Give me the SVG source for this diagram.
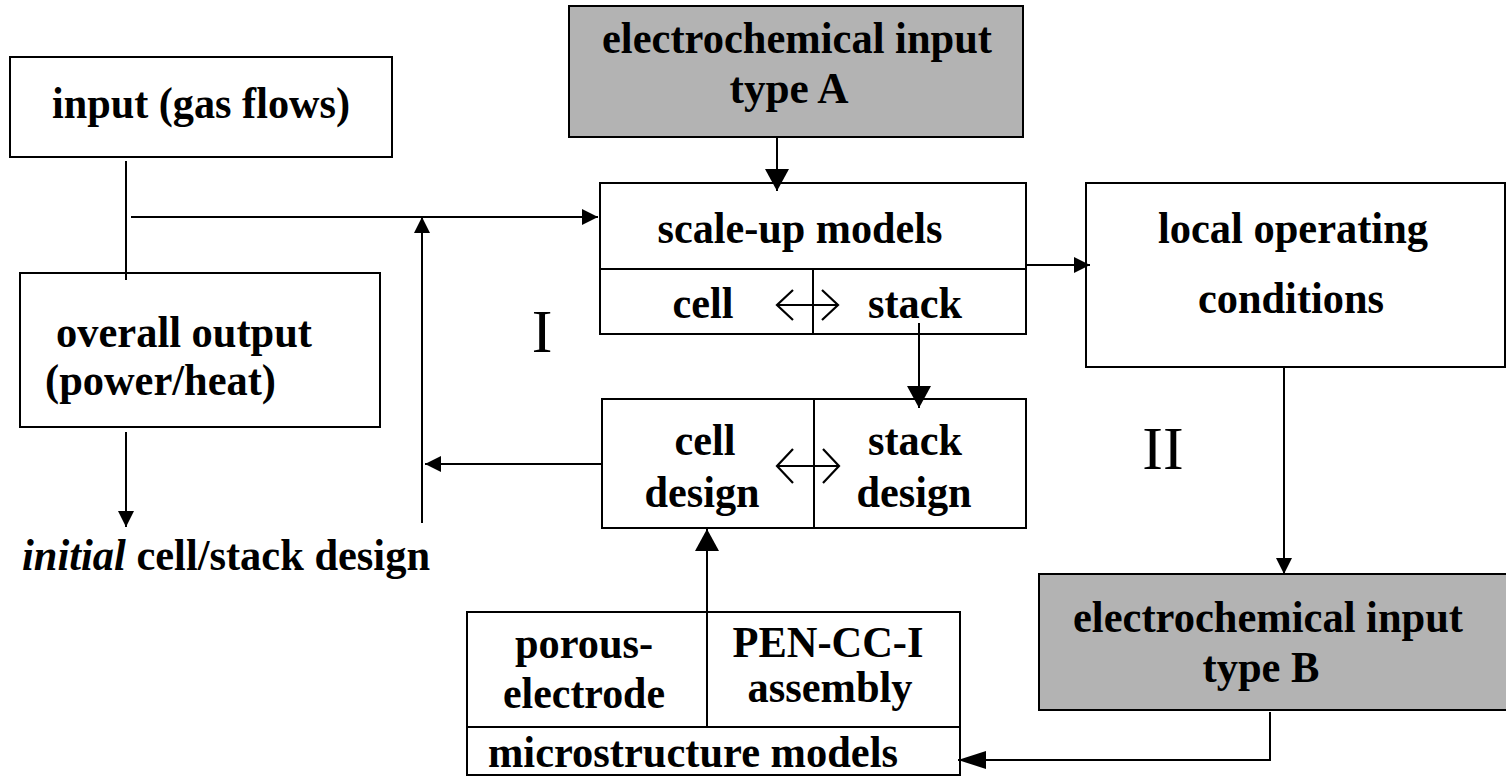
<svg xmlns="http://www.w3.org/2000/svg" width="1506" height="776" viewBox="0 0 1506 776">
<style>
  .box { fill: #ffffff; stroke: #000; stroke-width: 2; }
  .gray { fill: #b3b3b3; stroke: #000; stroke-width: 2; }
  .div { stroke: #000; stroke-width: 2; fill: none; }
  .t { font-family: "Liberation Serif", "Times New Roman", serif; font-weight: bold; font-size: 44.5px; fill: #000; }
  .c { text-anchor: middle; }
  .roman { font-family: "Liberation Serif", "Times New Roman", serif; font-size: 62px; fill: #000; text-anchor: middle; }
  .ln { stroke: #000; stroke-width: 2; fill: none; }
  .dbl { stroke: #000; stroke-width: 2.2; fill: none; }
</style>
<defs>
  <marker id="arrS" viewBox="0 0 16 16" refX="16" refY="8" markerWidth="16" markerHeight="16" markerUnits="userSpaceOnUse" orient="auto">
    <path d="M0,0 L16,8 L0,16 z" fill="#000"/>
  </marker>
  <marker id="arrL" viewBox="0 0 22 24" refX="22" refY="12" markerWidth="22" markerHeight="24" markerUnits="userSpaceOnUse" orient="auto">
    <path d="M0,0 L22,12 L0,24 z" fill="#000"/>
  </marker>
  <marker id="arrM" viewBox="0 0 28 18" refX="28" refY="9" markerWidth="28" markerHeight="18" markerUnits="userSpaceOnUse" orient="auto">
    <path d="M0,0 L28,9 L0,18 z" fill="#000"/>
  </marker>
</defs>

<g id="input">
  <rect class="box" x="10" y="57" width="382" height="100"/>
  <text class="t c" x="201" y="118" textLength="298" lengthAdjust="spacingAndGlyphs">input (gas flows)</text>
</g>

<g id="overall-output">
  <rect class="box" x="20" y="273" width="360" height="154"/>
  <text class="t" x="56" y="347" textLength="256" lengthAdjust="spacingAndGlyphs">overall output</text>
  <text class="t" x="45" y="395" textLength="231" lengthAdjust="spacingAndGlyphs">(power/heat)</text>
</g>

<g id="initial-design">
  <text class="t" x="22" y="570" textLength="408" lengthAdjust="spacingAndGlyphs"><tspan font-style="italic">initial</tspan> cell/stack design</text>
</g>

<g id="ec-input-a">
  <rect class="gray" x="569" y="6" width="454" height="131"/>
  <text class="t c" x="797" y="53" textLength="390" lengthAdjust="spacingAndGlyphs">electrochemical input</text>
  <text class="t c" x="789" y="103" textLength="119" lengthAdjust="spacingAndGlyphs">type A</text>
</g>

<g id="scale-up">
  <rect class="box" x="600" y="183" width="426" height="151"/>
  <line class="div" x1="600" y1="269" x2="1026" y2="269"/>
  <line class="div" x1="813" y1="269" x2="813" y2="334"/>
  <text class="t c" x="800" y="243" textLength="285" lengthAdjust="spacingAndGlyphs">scale-up models</text>
  <text class="t c" x="703" y="318" textLength="61" lengthAdjust="spacingAndGlyphs">cell</text>
  <text class="t c" x="915" y="318" textLength="94" lengthAdjust="spacingAndGlyphs">stack</text>
  <path class="dbl" d="M777,305 H838 M793,290 L777,305 L793,320 M822,290 L838,305 L822,320"/>
</g>

<g id="local-conditions">
  <rect class="box" x="1086" y="183" width="419" height="184"/>
  <text class="t c" x="1293" y="243" textLength="270" lengthAdjust="spacingAndGlyphs">local operating</text>
  <text class="t c" x="1291" y="313" textLength="186" lengthAdjust="spacingAndGlyphs">conditions</text>
</g>

<g id="design">
  <rect class="box" x="602" y="399" width="424" height="129"/>
  <line class="div" x1="814" y1="399" x2="814" y2="528" stroke-width="3"/>
  <text class="t c" x="705" y="455" textLength="61" lengthAdjust="spacingAndGlyphs">cell</text>
  <text class="t c" x="702" y="507" textLength="115" lengthAdjust="spacingAndGlyphs">design</text>
  <text class="t c" x="915" y="455" textLength="94" lengthAdjust="spacingAndGlyphs">stack</text>
  <text class="t c" x="914" y="507" textLength="115" lengthAdjust="spacingAndGlyphs">design</text>
  <path class="dbl" d="M777,466 H839 M793,449 L777,466 L793,483 M823,449 L839,466 L823,483"/>
</g>

<g id="label-I">
  <text class="roman" x="542" y="352">I</text>
</g>
<g id="label-II">
  <text class="roman" x="1163" y="469" font-size="64">II</text>
</g>

<g id="ec-input-b">
  <rect class="gray" x="1039" y="574" width="470" height="136"/>
  <text class="t c" x="1268" y="632" textLength="390" lengthAdjust="spacingAndGlyphs">electrochemical input</text>
  <text class="t c" x="1261" y="682" textLength="117" lengthAdjust="spacingAndGlyphs">type B</text>
</g>

<g id="microstructure">
  <rect class="box" x="467" y="612" width="493" height="163"/>
  <line class="div" x1="467" y1="727" x2="960" y2="727"/>
  <line class="div" x1="707" y1="612" x2="707" y2="727"/>
  <text class="t c" x="584" y="658" textLength="138" lengthAdjust="spacingAndGlyphs">porous-</text>
  <text class="t c" x="584" y="708" textLength="162" lengthAdjust="spacingAndGlyphs">electrode</text>
  <text class="t c" x="828" y="657" textLength="191" lengthAdjust="spacingAndGlyphs">PEN-CC-I</text>
  <text class="t c" x="830" y="702" textLength="165" lengthAdjust="spacingAndGlyphs">assembly</text>
  <text class="t" x="488" y="767" textLength="410" lengthAdjust="spacingAndGlyphs">microstructure models</text>
</g>

<g id="connectors">
  <line class="ln" x1="126" y1="161" x2="126" y2="280"/>
  <line class="ln" x1="131" y1="217" x2="598" y2="217" marker-end="url(#arrS)"/>
  <line class="ln" x1="422" y1="523" x2="422" y2="217" marker-end="url(#arrS)"/>
  <line class="ln" x1="602" y1="464" x2="425" y2="464" marker-end="url(#arrS)"/>
  <line class="ln" x1="126" y1="432" x2="126" y2="527" marker-end="url(#arrS)"/>
  <line class="ln" x1="777" y1="137" x2="777" y2="191" marker-end="url(#arrL)"/>
  <line class="ln" x1="1026" y1="265" x2="1090" y2="265" marker-end="url(#arrS)"/>
  <line class="ln" x1="1284" y1="367" x2="1284" y2="574" marker-end="url(#arrS)"/>
  <line class="ln" x1="919" y1="323" x2="919" y2="408" marker-end="url(#arrL)"/>
  <line class="ln" x1="707" y1="612" x2="707" y2="529" marker-end="url(#arrL)"/>
  <path class="ln" d="M1270,712 V760 H958" marker-end="url(#arrM)"/>
</g>
</svg>
